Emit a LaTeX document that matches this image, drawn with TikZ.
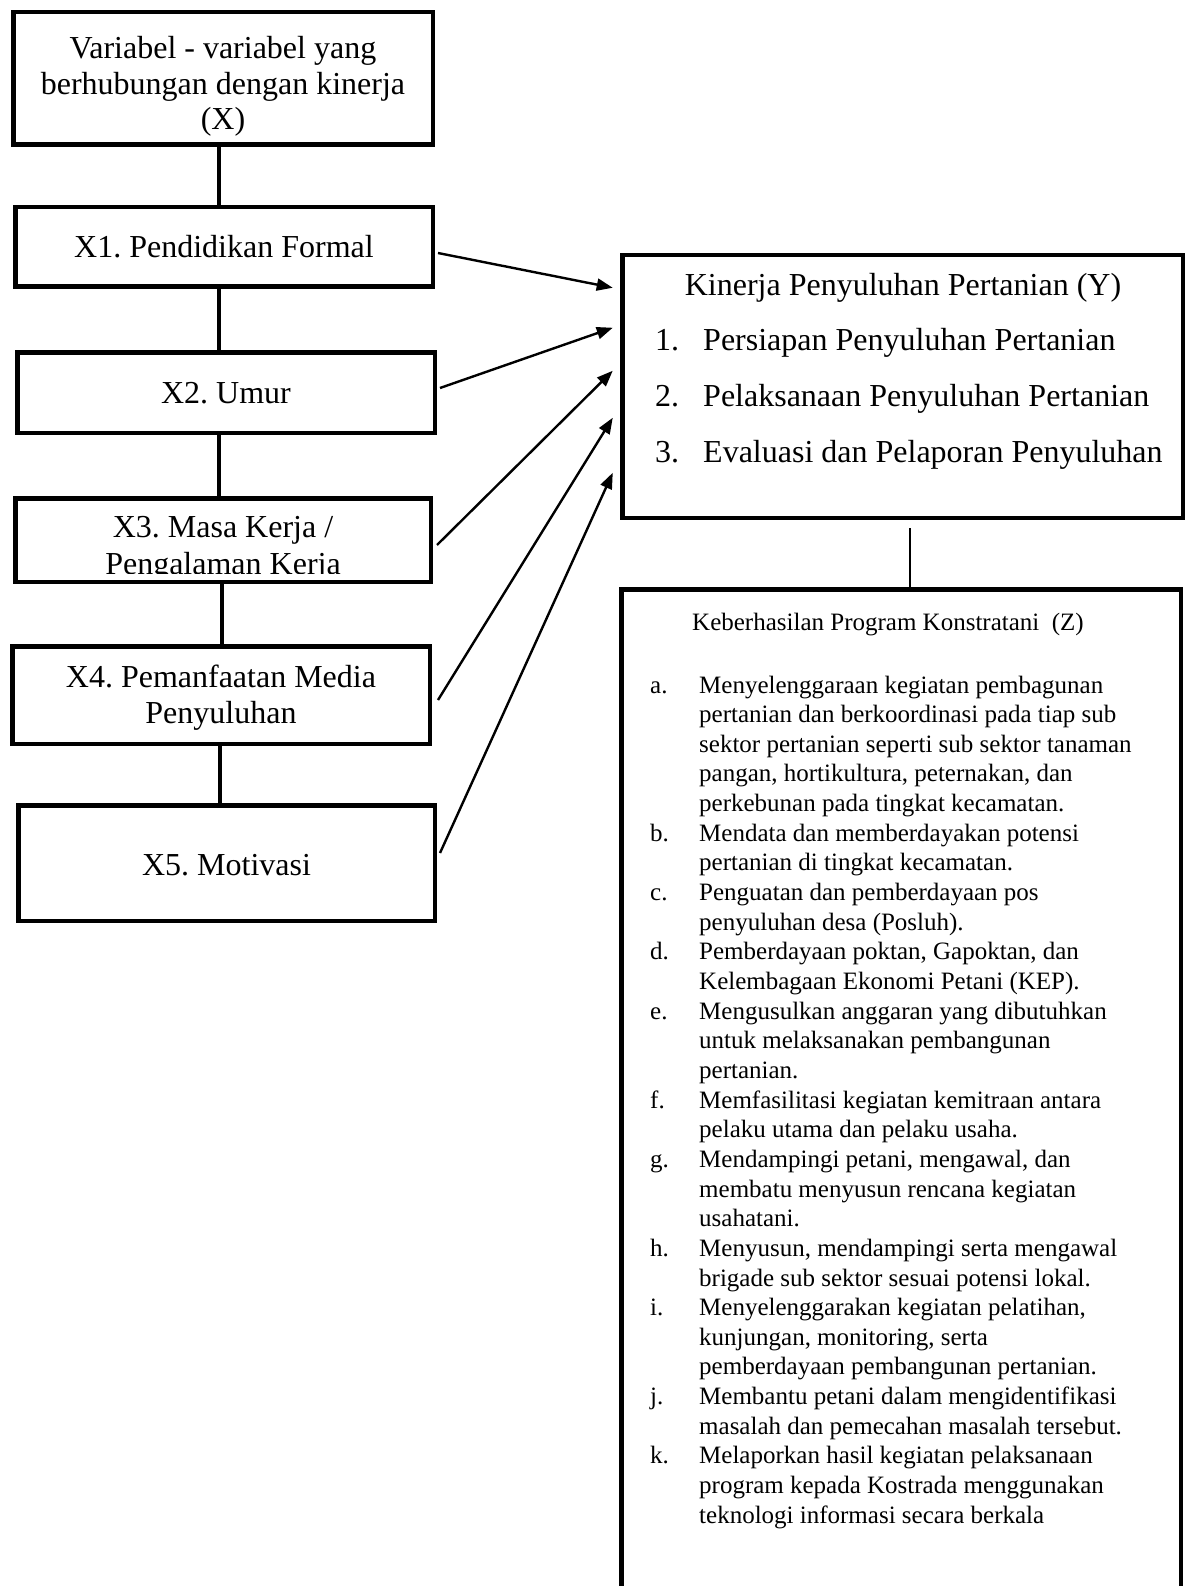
\documentclass[tikz,border=0pt]{standalone}
\usepackage{fontspec}
\setmainfont{Liberation Serif}
\usetikzlibrary{arrows.meta,calc}
\frenchspacing
\newcommand{\zlistitem}[2]{\hangindent=49pt\hangafter=1\noindent\makebox[49pt][l]{#1}#2\par}
\newcommand{\ylistitem}[1]{\makebox[48pt][l]{#1}}
\begin{document}
\begin{tikzpicture}[x=1pt,y=-1pt,
  xbox/.style={draw, line width=4.5pt, inner sep=0pt},
  vline/.style={line width=4.5pt},
  arr/.style={line width=2.4pt, -{Triangle[length=16pt,width=12pt]}},
  thinline/.style={line width=2pt},
  ftbig/.style={font=\fontsize{32}{32}\selectfont\frenchspacing, inner sep=0pt},
  ftsmall/.style={font=\fontsize{25}{29.65}\selectfont\frenchspacing, inner sep=0pt}]
\useasboundingbox (0,0) rectangle (1189,1586);
\clip (0,0) rectangle (1189,1586);

% boxes
\node[xbox, minimum width=419.5pt, minimum height=132.5pt] (X0) at (223,78.5) {};
\node[xbox, minimum width=417.5pt, minimum height=79.5pt] (X1) at (224,247) {};
\node[xbox, minimum width=417.5pt, minimum height=80.5pt] (X2) at (226,392.5) {};
\node[xbox, minimum width=415.5pt, minimum height=83.5pt] (X3) at (223,540) {};
\node[xbox, minimum width=417.5pt, minimum height=97.5pt] (X4) at (221,695) {};
\node[xbox, minimum width=416.5pt, minimum height=115.5pt] (X5) at (226.5,863) {};
\node[xbox, minimum width=560.5pt, minimum height=262.5pt] (Y) at (902.5,386.5) {};
\node[xbox, minimum width=559.5pt, minimum height=1060pt] (Z) at (901,1119.25) {};

% texts of X boxes
\node[ftbig, anchor=base] (t0) at (223,59) {\parbox[t]{410pt}{\fontsize{32}{35.4}\selectfont\centering Variabel - variabel yang\\ berhubungan dengan kinerja\\ (X)}};
\node[ftbig, anchor=base] (t1) at (224,258) {X1. Pendidikan Formal};
\node[ftbig, anchor=base] (t2) at (226,403) {X2. Umur};
\begin{scope}
  \clip ($(X3.north west)+(2,2)$) rectangle ($(X3.south east)+(-2,-10.5)$);
  \node[ftbig, anchor=base] (t3) at (223,537) {\parbox[t]{410pt}{\fontsize{32}{37}\selectfont\centering X3. Masa Kerja /\\ Pengalaman Kerja}};
\end{scope}
\node[ftbig, anchor=base] (t4) at (221,687) {\parbox[t]{410pt}{\fontsize{32}{36}\selectfont\centering X4. Pemanfaatan Media\\ Penyuluhan}};
\node[ftbig, anchor=base] (t5) at (226.5,875) {X5. Motivasi};

% Y texts
\node[ftbig, anchor=base] (yt) at (903,296) {Kinerja Penyuluhan Pertanian (Y)};
\node[ftbig, anchor=base west] (yl) at (655,350) {\parbox[t]{525pt}{\fontsize{32}{56}\selectfont
  \ylistitem{1.}Persiapan Penyuluhan Pertanian\\
  \ylistitem{2.}Pelaksanaan Penyuluhan Pertanian\\
  \ylistitem{3.}Evaluasi dan Pelaporan Penyuluhan}};

% Z texts
\node[ftsmall, anchor=base] (zh) at (888,630) {Keberhasilan Program Konstratani\ \ (Z)};
\node[ftsmall, anchor=base west] (zl) at (650,693) {\parbox[t]{530pt}{\fontsize{25}{29.65}\selectfont
\zlistitem{a.}{Menyelenggaraan kegiatan pembagunan\\ pertanian dan berkoordinasi pada tiap sub\\ sektor pertanian seperti sub sektor tanaman\\ pangan, hortikultura, peternakan, dan\\ perkebunan pada tingkat kecamatan.}
\zlistitem{b.}{Mendata dan memberdayakan potensi\\ pertanian di tingkat kecamatan.}
\zlistitem{c.}{Penguatan dan pemberdayaan pos\\ penyuluhan desa (Posluh).}
\zlistitem{d.}{Pemberdayaan poktan, Gapoktan, dan\\ Kelembagaan Ekonomi Petani (KEP).}
\zlistitem{e.}{Mengusulkan anggaran yang dibutuhkan\\ untuk melaksanakan pembangunan\\ pertanian.}
\zlistitem{f.}{Memfasilitasi kegiatan kemitraan antara\\ pelaku utama dan pelaku usaha.}
\zlistitem{g.}{Mendampingi petani, mengawal, dan\\ membatu menyusun rencana kegiatan\\ usahatani.}
\zlistitem{h.}{Menyusun, mendampingi serta mengawal\\ brigade sub sektor sesuai potensi lokal.}
\zlistitem{i.}{Menyelenggarakan kegiatan pelatihan,\\ kunjungan, monitoring, serta\\ pemberdayaan pembangunan pertanian.}
\zlistitem{j.}{Membantu petani dalam mengidentifikasi\\ masalah dan pemecahan masalah tersebut.}
\zlistitem{k.}{Melaporkan hasil kegiatan pelaksanaan\\ program kepada Kostrada menggunakan\\ teknologi informasi secara berkala}}};

% vertical connectors
\draw[vline] ([xshift=-4pt]X0.south) -- ([xshift=-5pt]X1.north);
\draw[vline] ([xshift=-5pt]X1.south) -- ([xshift=-7pt]X2.north);
\draw[vline] ([xshift=-7pt]X2.south) -- ([xshift=-4pt]X3.north);
\draw[vline] ([xshift=-1pt]X3.south) -- ([xshift=1pt]X4.north);
\draw[vline] ([xshift=-1pt]X4.south) -- ([xshift=-6.5pt]X5.north);

% arrows to Y
\draw[arr] ($(X1.east)+(3,6)$) -- ($(Y.north west)+(-7.25,34.75)$);
\draw[arr] ($(X2.east)+(3,-4.5)$) -- ($(Y.north west)+(-7.25,74.75)$);
\draw[arr] ($(X3.east)+(4,5)$) -- ($(Y.north west)+(-7.25,117.75)$);
\draw[arr] ($(X4.east)+(6,5)$) -- ($(Y.north west)+(-7.25,164.75)$);
\draw[arr] ($(X5.east)+(3,-10)$) -- ($(Y.north west)+(-7.25,219.75)$);

% Y to Z
\draw[thinline] ($(Y.south)+(7.5,8)$) -- ($(Z.north)+(9,0)$);
\end{tikzpicture}
\end{document}
